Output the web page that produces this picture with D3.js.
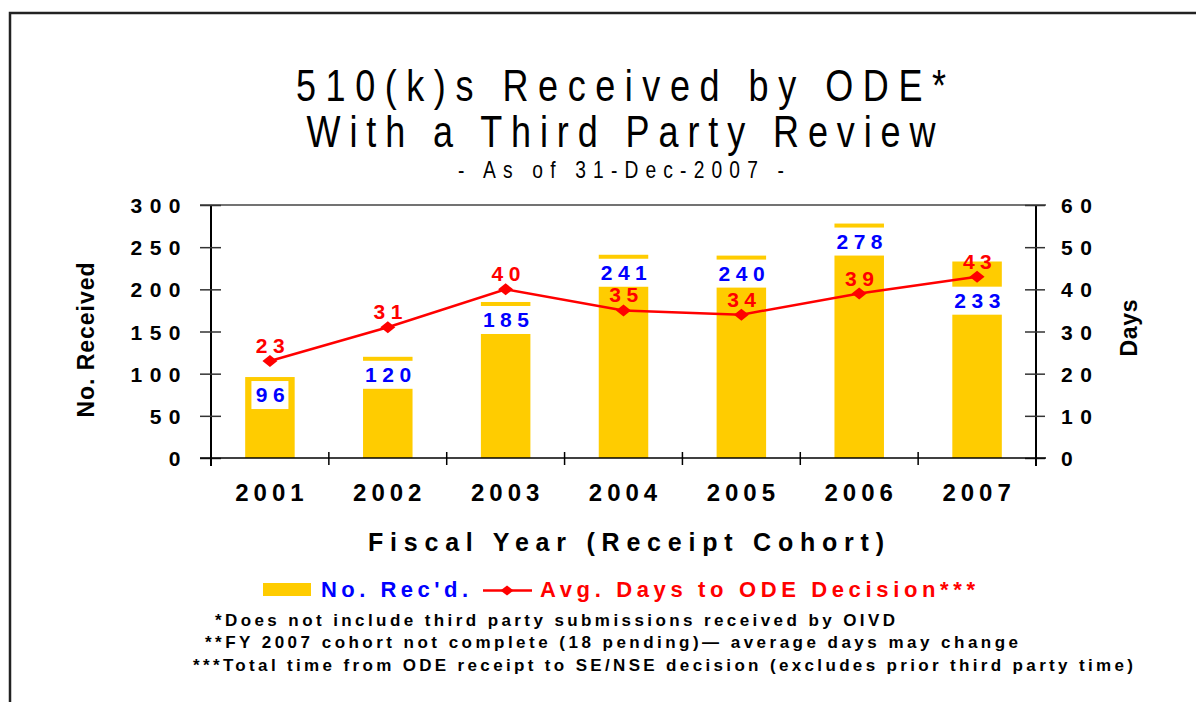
<!DOCTYPE html>
<html>
<head>
<meta charset="utf-8">
<script src="https://cdn.jsdelivr.net/npm/d3@7"></script>
<style>
  body { margin: 0; background: #fff; }
  svg { display: block; }
  .bold { font-family: "Liberation Sans", Arial, sans-serif; font-weight: bold; }
  .narrow { font-family: "Liberation Sans", Arial, sans-serif; }
</style>
</head>
<body>
<svg width="1196" height="702"></svg>
<script>
// chart data
var years = ['2001', '2002', '2003', '2004', '2005', '2006', '2007'];
var received = [96, 120, 185, 241, 240, 278, 233];
var avgDays = [23, 31, 40, 35, 34, 39, 43];
var leftTicks = [0, 50, 100, 150, 200, 250, 300];
var rightTicks = [0, 10, 20, 30, 40, 50, 60];

function main() {
	var svg = d3.select('svg');
	var left = 211, right = 1036, top = 205, bottom = 458;

	var x = d3.scaleBand().domain(years).range([left, right]).padding(0.58).paddingOuter(0.29);
	var y = d3.scaleLinear().domain([0, 300]).range([bottom, top]);
	var y2 = d3.scaleLinear().domain([0, 60]).range([bottom, top]);
	var step = x.step();
	var cx = function(d) { return x(d) + x.bandwidth() / 2; };

	// outer frame
	svg.append('path')
		.attr('d', 'M10,710 L10,13 L1210,13')
		.attr('fill', 'none').attr('stroke', '#222').attr('stroke-width', 2.5);

	// title (squeezed horizontally to look like a narrow face)
	var sx = 0.8;
	var titles = [
		{ t: '510(k)s Received by ODE*', y: 101, size: 45, len: 650 },
		{ t: 'With a Third Party Review', y: 147, size: 45, len: 629 },
		{ t: '- As of 31-Dec-2007 -', y: 178, size: 24, len: 326 }
	];
	titles.forEach(function(d) {
		svg.append('text').attr('class', 'narrow')
			.attr('transform', 'translate(621,' + d.y + ') scale(' + sx + ',1)')
			.attr('text-anchor', 'middle')
			.attr('font-size', d.size)
			.attr('textLength', d.len / sx).attr('lengthAdjust', 'spacing')
			.text(d.t);
	});

	// top border line of plot
	svg.append('line')
		.attr('x1', 200).attr('x2', 1046).attr('y1', top).attr('y2', top)
		.attr('stroke', '#444').attr('stroke-width', 1.5);

	// bars
	var bars = svg.append('g');
	bars.selectAll('rect').data(years).enter().append('rect')
		.attr('x', function(d) { return x(d); })
		.attr('width', x.bandwidth())
		.attr('y', function(d, i) { return y(received[i]); })
		.attr('height', function(d, i) { return bottom - y(received[i]); })
		.attr('fill', '#FFCC00');

	// left axis
	var axL = svg.append('g')
		.attr('transform', 'translate(' + left + ',0)')
		.call(d3.axisLeft(y).tickValues(leftTicks).tickSize(11).tickPadding(0));
	axL.select('.domain').attr('d', 'M0,' + top + 'V' + (bottom + 8)).attr('stroke', '#000').attr('stroke-width', 2);
	axL.selectAll('.tick line').attr('x1', 10).attr('x2', -11).attr('stroke', '#333').attr('stroke-width', 1.5);
	axL.selectAll('.tick text')
		.attr('class', 'bold').attr('x', -23).attr('dy', '0.36em')
		.attr('font-size', 21).attr('letter-spacing', 7.5).attr('fill', '#000');

	// right axis
	var axR = svg.append('g')
		.attr('transform', 'translate(' + right + ',0)')
		.call(d3.axisRight(y2).tickValues(rightTicks).tickSize(9).tickPadding(0));
	axR.select('.domain').attr('d', 'M0,' + top + 'V' + (bottom + 8)).attr('stroke', '#000').attr('stroke-width', 2);
	axR.selectAll('.tick line').attr('x1', -11).attr('x2', 9).attr('stroke', '#333').attr('stroke-width', 1.5);
	axR.selectAll('.tick text')
		.attr('class', 'bold').attr('x', 25).attr('dy', '0.36em')
		.attr('text-anchor', 'start')
		.attr('font-size', 21).attr('letter-spacing', 7.5).attr('fill', '#000');

	// bottom axis with category separators
	svg.append('line')
		.attr('x1', 200).attr('x2', 1046).attr('y1', bottom).attr('y2', bottom)
		.attr('stroke', '#000').attr('stroke-width', 1.5);
	var seps = d3.range(years.length + 1).map(function(i) { return left + i * step; });
	svg.append('g').selectAll('line').data(seps).enter().append('line')
		.attr('x1', function(d) { return d; }).attr('x2', function(d) { return d; })
		.attr('y1', bottom - 6).attr('y2', bottom + 7)
		.attr('stroke', '#000').attr('stroke-width', 1.5);
	svg.append('g').selectAll('text').data(years).enter().append('text')
		.attr('class', 'bold')
		.attr('x', function(d) { return cx(d) + 2; })
		.attr('y', 501)
		.attr('text-anchor', 'middle')
		.attr('font-size', 24).attr('letter-spacing', 5)
		.text(function(d) { return d; });

	// axis titles
	svg.append('text').attr('class', 'bold')
		.attr('x', 626).attr('y', 551).attr('text-anchor', 'middle')
		.attr('font-size', 25).attr('textLength', 516).attr('lengthAdjust', 'spacing')
		.text('Fiscal Year (Receipt Cohort)');
	svg.append('text').attr('class', 'bold')
		.attr('transform', 'translate(94,340) rotate(-90)')
		.attr('text-anchor', 'middle')
		.attr('font-size', 23).attr('textLength', 155).attr('lengthAdjust', 'spacing')
		.text('No. Received');
	svg.append('text').attr('class', 'bold')
		.attr('transform', 'translate(1137,328) rotate(-90)')
		.attr('text-anchor', 'middle')
		.attr('font-size', 23).attr('textLength', 57).attr('lengthAdjust', 'spacing')
		.text('Days');

	// line series
	var line = d3.line()
		.x(function(d, i) { return cx(years[i]); })
		.y(function(d) { return y2(d); });
	svg.append('path').datum(avgDays)
		.attr('d', line)
		.attr('fill', 'none').attr('stroke', '#FF0000').attr('stroke-width', 2.5);

	var diamond = 'M0,-6L7.5,0L0,6L-7.5,0Z';
	svg.append('g').selectAll('path').data(avgDays).enter().append('path')
		.attr('d', diamond)
		.attr('transform', function(d, i) { return 'translate(' + cx(years[i]) + ',' + y2(d) + ')'; })
		.attr('fill', '#FF0000');

	// bar value labels on white boxes
	var labH = 28;
	var lab = svg.append('g').selectAll('g').data(received).enter().append('g')
		.attr('transform', function(d, i) {
			var boxTop = y(d) + 4;
			var my = y2(avgDays[i]);
			if (my > boxTop - 8 && my < boxTop + labH) boxTop = my + 10;
			return 'translate(' + cx(years[i]) + ',' + boxTop + ')';
		});
	lab.append('rect')
		.attr('x', function(d) { var w = String(d).length * 17.5 + 2; return -w / 2; })
		.attr('width', function(d) { return String(d).length * 17.5 + 2; })
		.attr('height', labH)
		.attr('fill', '#fff');
	lab.append('text').attr('class', 'bold')
		.attr('x', 3).attr('y', 21)
		.attr('text-anchor', 'middle')
		.attr('font-size', 21).attr('letter-spacing', 5.5)
		.attr('fill', '#0000FF')
		.text(function(d) { return d; });

	// line value labels
	svg.append('g').selectAll('text').data(avgDays).enter().append('text')
		.attr('class', 'bold')
		.attr('x', function(d, i) { return cx(years[i]) + 3; })
		.attr('y', function(d) { return y2(d) - 8; })
		.attr('text-anchor', 'middle')
		.attr('font-size', 21).attr('letter-spacing', 5.5)
		.attr('fill', '#FF0000')
		.text(function(d) { return d; });

	// legend
	var lg = svg.append('g');
	lg.append('rect').attr('x', 263).attr('y', 583).attr('width', 48).attr('height', 13).attr('fill', '#FFCC00');
	lg.append('text').attr('class', 'bold')
		.attr('x', 321).attr('y', 597).attr('font-size', 22)
		.attr('textLength', 147).attr('lengthAdjust', 'spacing')
		.attr('fill', '#0000FF').text("No. Rec'd.");
	lg.append('line').attr('x1', 483).attr('x2', 532).attr('y1', 590.5).attr('y2', 590.5)
		.attr('stroke', '#FF0000').attr('stroke-width', 2.5);
	lg.append('path').attr('d', 'M0,-5L6.5,0L0,5L-6.5,0Z')
		.attr('transform', 'translate(507,590.5)').attr('fill', '#FF0000');
	lg.append('text').attr('class', 'bold')
		.attr('x', 540).attr('y', 597).attr('font-size', 22)
		.attr('textLength', 435).attr('lengthAdjust', 'spacing')
		.attr('fill', '#FF0000').text('Avg. Days to ODE Decision***');

	// footnotes
	var notes = [
		{ t: '*Does not include third party submissions received by OIVD', x: 215, y: 626, len: 680 },
		{ t: '**FY 2007 cohort not complete (18 pending)\u2014 average days may change', x: 205, y: 648, len: 813 },
		{ t: '***Total time from ODE receipt to SE/NSE decision (excludes prior third party time)', x: 193, y: 671, len: 940 }
	];
	svg.append('g').selectAll('text').data(notes).enter().append('text')
		.attr('class', 'bold')
		.attr('x', function(d) { return d.x; })
		.attr('y', function(d) { return d.y; })
		.attr('font-size', 17)
		.attr('textLength', function(d) { return d.len; })
		.attr('lengthAdjust', 'spacing')
		.text(function(d) { return d.t; });
}
main();
</script>
</body>
</html>
